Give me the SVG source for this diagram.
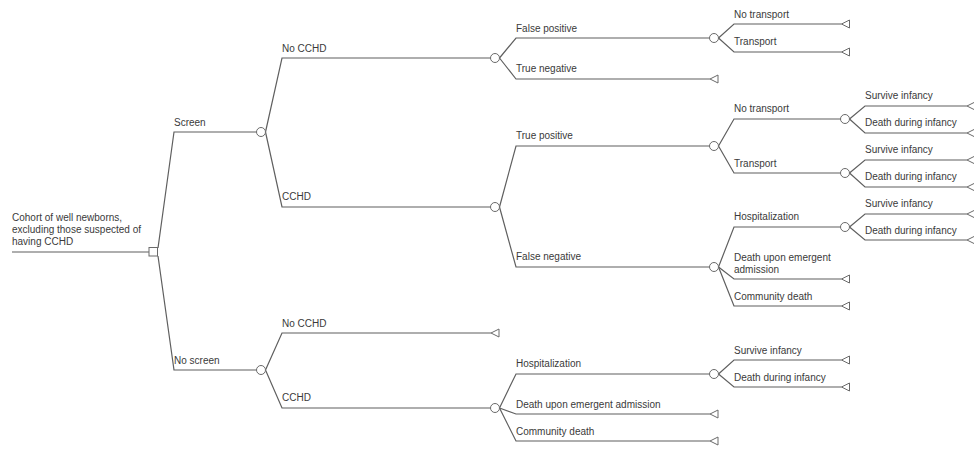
<svg xmlns="http://www.w3.org/2000/svg" width="974" height="449" viewBox="0 0 974 449">
<style>
.e{fill:none;stroke:#5f5f5f;stroke-width:1.2}
.c{fill:#fff;stroke:#6a6a6a;stroke-width:1}
.t{fill:#fff;stroke:#6a6a6a;stroke-width:1}
text{font-family:"Liberation Sans",Arial,sans-serif;font-size:10px;fill:#3a3a3a}
</style>
<rect width="974" height="449" fill="#fff"/>
<g id="connectors">
<path class="e" d="M12,252H149"/>
<path class="e" d="M158,248L174,132H256.5"/>
<path class="e" d="M158,256L174,370H256.5"/>
<path class="e" d="M265.5,132L282,58H490.5"/>
<path class="e" d="M265.5,132L282,207H490.5"/>
<path class="e" d="M265.5,370L282,333H491"/>
<path class="e" d="M265.5,370L282,408H490.5"/>
<path class="e" d="M499.5,58L516,38H709.5"/>
<path class="e" d="M499.5,58L516,79H710"/>
<path class="e" d="M499.5,207L516,146H709.5"/>
<path class="e" d="M499.5,207L516,267H709.5"/>
<path class="e" d="M718.5,38L734,24H841.5"/>
<path class="e" d="M718.5,38L734,52H841.5"/>
<path class="e" d="M718.5,146L734,119H840.5"/>
<path class="e" d="M718.5,146L734,173H840.5"/>
<path class="e" d="M718.5,267L734,227H840.5"/>
<path class="e" d="M718.5,267L734,279H841.5"/>
<path class="e" d="M718.5,267L734,306H841.5"/>
<path class="e" d="M849.5,119L865,106H967"/>
<path class="e" d="M849.5,119L865,133H967"/>
<path class="e" d="M849.5,173L865,160H967"/>
<path class="e" d="M849.5,173L865,187H967"/>
<path class="e" d="M849.5,227L865,214H967"/>
<path class="e" d="M849.5,227L865,240H967"/>
<path class="e" d="M499.5,408L516,374H709.5"/>
<path class="e" d="M499.5,408L516,414H710"/>
<path class="e" d="M499.5,408L516,441H710"/>
<path class="e" d="M718.5,374L734,360H841.5"/>
<path class="e" d="M718.5,374L734,387H841.5"/>
</g>
<g id="labels">
<text x="174" y="126">Screen</text>
<text x="174" y="364">No screen</text>
<text x="282" y="52">No CCHD</text>
<text x="282" y="200">CCHD</text>
<text x="282" y="327">No CCHD</text>
<text x="282" y="401">CCHD</text>
<text x="516" y="32">False positive</text>
<text x="516" y="72">True negative</text>
<text x="516" y="139">True positive</text>
<text x="516" y="260">False negative</text>
<text x="734" y="18">No transport</text>
<text x="734" y="45">Transport</text>
<text x="734" y="112">No transport</text>
<text x="734" y="167">Transport</text>
<text x="734" y="220">Hospitalization</text>
<text x="734" y="261">Death upon emergent</text>
<text x="734" y="272.5">admission</text>
<text x="734" y="300">Community death</text>
<text x="865" y="99">Survive infancy</text>
<text x="865" y="126">Death during infancy</text>
<text x="865" y="153">Survive infancy</text>
<text x="865" y="180">Death during infancy</text>
<text x="865" y="207">Survive infancy</text>
<text x="865" y="234">Death during infancy</text>
<text x="516" y="367">Hospitalization</text>
<text x="516" y="407.5">Death upon emergent admission</text>
<text x="516" y="434.5">Community death</text>
<text x="734" y="354">Survive infancy</text>
<text x="734" y="380.5">Death during infancy</text>
</g>
<g id="root">
<text x="12" y="220.5">Cohort of well newborns,</text>
<text x="12" y="232.5">excluding those suspected of</text>
<text x="12" y="244.5">having CCHD</text>
<rect class="c" x="149" y="247.5" width="8.5" height="8.5"/>
</g>
<g id="n-screen"><circle class="c" cx="261" cy="132" r="4.5"/></g>
<g id="n-noscreen"><circle class="c" cx="261" cy="370" r="4.5"/></g>
<g id="n-s-nocchd"><circle class="c" cx="495" cy="58" r="4.5"/></g>
<g id="n-s-cchd"><circle class="c" cx="495" cy="207" r="4.5"/></g>
<g id="n-fp"><circle class="c" cx="714" cy="38" r="4.5"/></g>
<g id="n-tp"><circle class="c" cx="714" cy="146" r="4.5"/></g>
<g id="n-fn"><circle class="c" cx="714" cy="267" r="4.5"/></g>
<g id="n-tp-nt"><circle class="c" cx="845" cy="119" r="4.5"/></g>
<g id="n-tp-t"><circle class="c" cx="845" cy="173" r="4.5"/></g>
<g id="n-fn-h"><circle class="c" cx="845" cy="227" r="4.5"/></g>
<g id="n-ns-cchd"><circle class="c" cx="495" cy="408" r="4.5"/></g>
<g id="n-ns-h"><circle class="c" cx="714" cy="374" r="4.5"/></g>
<g id="t-fp-nt"><path class="t" d="M841.5,24L849.5,20V28Z"/></g>
<g id="t-fp-t"><path class="t" d="M841.5,52L849.5,48V56Z"/></g>
<g id="t-tn"><path class="t" d="M710,79L718,75V83Z"/></g>
<g id="t-tp-nt-s"><path class="t" d="M967,106L975,102V110Z"/></g>
<g id="t-tp-nt-d"><path class="t" d="M967,133L975,129V137Z"/></g>
<g id="t-tp-t-s"><path class="t" d="M967,160L975,156V164Z"/></g>
<g id="t-tp-t-d"><path class="t" d="M967,187L975,183V191Z"/></g>
<g id="t-fn-h-s"><path class="t" d="M967,214L975,210V218Z"/></g>
<g id="t-fn-h-d"><path class="t" d="M967,240L975,236V244Z"/></g>
<g id="t-fn-d"><path class="t" d="M841.5,279L849.5,275V283Z"/></g>
<g id="t-fn-c"><path class="t" d="M841.5,306L849.5,302V310Z"/></g>
<g id="t-ns-nocchd"><path class="t" d="M491,333L499,329V337Z"/></g>
<g id="t-ns-h-s"><path class="t" d="M841.5,360L849.5,356V364Z"/></g>
<g id="t-ns-h-d"><path class="t" d="M841.5,387L849.5,383V391Z"/></g>
<g id="t-ns-d"><path class="t" d="M710,414L718,410V418Z"/></g>
<g id="t-ns-c"><path class="t" d="M710,441L718,437V445Z"/></g>
</svg>
